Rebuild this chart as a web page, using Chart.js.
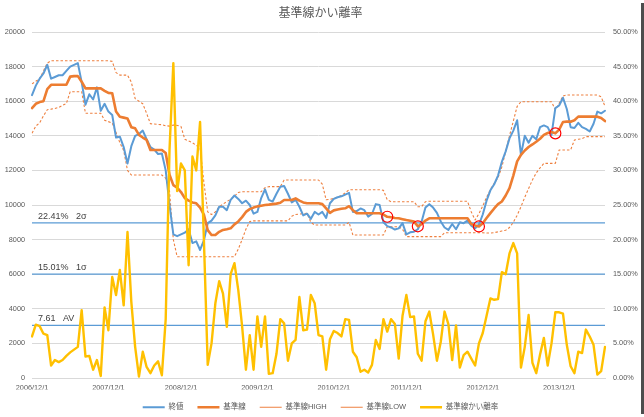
<!DOCTYPE html>
<html><head><meta charset="utf-8">
<script src="https://cdn.jsdelivr.net/npm/chart.js@4.4.1/dist/chart.umd.min.js"></script>
<style>
html,body{margin:0;padding:0;background:#fff;}
#wrap{position:relative;width:641px;height:414px;background:#fff;box-shadow:3px 3px 0 0 #4d4d4d;}
canvas{display:block;}
</style></head><body>
<div id="wrap"><canvas id="c" width="641" height="414"></canvas></div>
<script>
const chartTitle = '基準線かい離率';
const seriesNames = ['終値', '基準線', '基準線HIGH', '基準線LOW', '基準線かい離率'];
const tickLabels = ['2006/12/1','2007/12/1','2008/12/1','2009/12/1','2010/12/1','2011/12/1','2012/12/1','2013/12/1'];
const tickIndex = [0, 20, 39, 59, 79, 98, 118, 138];

const closeValues = [
16350,16900,17300,17600,18100,17300,17400,17500,17500,17750,
18000,18100,18200,17100,15800,16400,16100,16800,15450,15850,
15400,15200,13900,13950,13350,12400,13400,14000,14100,14300,
13800,13350,13200,12950,12980,12000,10000,8300,8200,8300,
8400,8600,7800,7900,7400,7950,8950,9100,9400,9900,
9900,9700,10300,10550,10350,10100,10250,10000,9500,9600,
10400,10900,10300,10200,10650,11050,11100,10650,10150,10300,
9900,9400,9500,9200,9600,9450,9600,9250,10100,10350,
10450,10500,10600,10700,9600,9650,9800,9700,9330,9480,
10050,10000,9000,8780,8700,8580,8650,8950,8300,8420,
8460,8600,9050,9850,10050,9850,9550,9050,8700,8560,
8900,8600,9000,8950,9100,8800,8650,8870,9450,10250,
10850,11200,11700,12500,13100,13850,14300,14900,12900,14000,
13600,14000,13800,14500,14600,14500,14050,15600,15750,16200,
15550,14500,14450,14750,14500,14400,14250,14700,15400,15300,
15450];

const baseValues = [
15600,15850,15950,16000,16700,16950,16950,16950,16950,16950,
17420,17450,17450,17130,16740,16740,16740,16740,16740,16600,
16480,16460,15400,15100,15050,15000,14500,14430,14050,13900,
13760,13180,13180,13180,13180,13000,11750,11150,11000,10750,
10400,10250,10150,10100,9850,9450,8550,8265,8265,8450,
8560,8600,8650,8880,9050,9300,9600,9760,9850,9920,
9960,10000,10020,10050,10080,10130,10290,10290,10290,10380,
10250,10150,10100,10100,10100,10100,10050,9800,9550,9690,
9740,9780,9810,9930,9700,9520,9520,9520,9520,9520,
9520,9520,9450,9320,9290,9250,9230,9180,9130,9090,
9040,8770,8900,9100,9230,9230,9230,9230,9230,9230,
9230,9230,9230,9230,9230,8900,8820,8760,8950,9250,
9530,9800,10050,10200,10550,10980,11700,12520,12900,13150,
13350,13500,13660,13830,14050,14160,14220,14143,14360,14800,
14817,14817,14900,15106,15106,15106,15106,15106,15106,15030,
14850];

const highValues = [
17000,17150,17300,17750,18200,18340,18340,18340,18340,18340,
18340,18340,18340,18340,18340,18340,18340,18340,18340,18340,
18340,18300,17650,17510,17510,17510,17100,16150,16000,15850,
15300,14700,14680,14660,14640,14580,14560,14620,14600,14540,
13800,13700,13600,13450,13300,11300,9600,9450,9600,9900,
10050,10200,10330,10500,10720,10770,10770,10770,10770,10770,
10770,11000,11060,11060,11060,11060,11445,11445,11445,11445,
11445,11445,11445,11445,11445,11445,11200,10300,10330,10380,
10450,10550,10700,10880,10880,10880,10880,10880,10880,10880,
10880,10880,10850,10300,10192,10192,10192,10192,10192,10192,
10192,9900,9900,10192,10220,10220,10220,10220,10220,10220,
10220,10220,10220,10220,10220,9600,9132,9500,9950,10450,
10900,11250,11580,12200,13100,14000,14850,15700,15970,15970,
15970,15970,15970,15970,15970,15970,15970,15500,15880,16300,
16360,16360,16360,16360,16360,16360,16360,16360,16360,16250,
15700];

const lowValues = [
14150,14560,14750,15150,15510,15540,15580,15640,15760,15870,
16550,16550,16550,16550,15300,15300,15300,15300,15300,14900,
14820,14740,14200,13600,13150,12000,11734,11734,11734,11734,
11734,11734,11734,11734,11734,11550,10800,8000,7012,7012,
7012,7012,7012,7012,7012,7012,7012,7012,7012,7012,
7012,7012,7012,7012,7450,8000,8600,9040,9080,9080,
9080,9080,9080,9080,9080,9080,9080,9080,9350,9450,
9480,9500,9518,9000,8843,8843,8843,8843,8843,8843,
8843,8843,8843,9000,8265,8265,8265,8265,8265,8265,
8265,8265,8265,8747,8747,8747,8747,8600,8170,8170,
8170,8170,8170,8170,8170,8170,8170,8170,8400,8400,
8400,8400,8400,8400,8400,8400,8400,8400,8400,8380,
8380,8400,8450,8500,8540,8700,9000,9400,9900,10450,
10950,11450,11850,12150,12408,12408,12408,12408,13180,13180,
13180,13180,13760,13800,13830,13950,13950,13950,13950,13950,
13950];

const ratioValues = [
6.0,7.7,7.5,6.4,6.2,1.8,2.6,2.3,2.6,3.2,
3.7,4.1,4.5,9.8,3.1,3.2,1.2,2.6,0.3,10.2,
6.9,14.6,12.0,15.6,10.5,21.1,11.0,4.5,0.2,3.8,
1.6,0.7,1.8,2.4,0.4,8.5,33.0,45.5,27.0,31.0,
30.0,16.3,32.0,30.0,37.0,20.0,1.9,5.0,10.8,14.0,
12.2,7.4,15.0,16.6,12.7,7.5,1.2,6.2,1.2,8.9,
4.5,8.9,0.6,0.7,3.5,8.5,7.9,2.5,5.0,5.5,
11.7,6.9,7.0,12.0,10.8,6.2,6.0,1.2,5.6,6.8,
6.5,6.0,8.5,8.4,3.8,3.0,0.9,1.2,0.8,1.9,
5.5,4.2,8.5,6.7,8.5,7.8,2.8,9.0,12.0,8.8,
8.9,3.5,2.5,8.2,9.6,6.3,2.5,5.2,9.6,7.8,
2.6,7.6,1.5,3.3,3.8,2.8,1.8,5.0,6.5,9.0,
11.5,11.3,11.4,15.3,15.0,18.0,19.5,18.0,1.5,4.5,
9.1,2.2,0.7,3.4,5.8,1.8,5.0,9.5,9.5,9.3,
4.8,1.7,0.7,3.8,3.6,7.0,6.0,4.8,0.5,1.0,
4.5];

const sigmaValues = [22.41, 15.01, 7.61];
const sigmaLabels = ['22.41%   2σ', '15.01%   1σ', '7.61   AV'];
const circleIdx = [93, 101, 117, 137];

const FONT = "'Liberation Sans','Noto Sans CJK JP',sans-serif";
const categories = closeValues.map((_, i) => {
  const k = tickIndex.indexOf(i);
  return k >= 0 ? tickLabels[k] : '';
});

const lineBase = {pointRadius: 0, pointHoverRadius: 0, tension: 0, fill: false,
  borderJoinStyle: 'round', borderCapStyle: 'round'};

const datasets = [
  Object.assign({}, lineBase, {label: seriesNames[0], data: closeValues, borderColor: '#5B9BD5', backgroundColor: '#5B9BD5', borderWidth: 2, yAxisID: 'y', order: 3}),
  Object.assign({}, lineBase, {label: seriesNames[1], data: baseValues, borderColor: '#ED7D31', backgroundColor: '#ED7D31', borderWidth: 2.6, yAxisID: 'y', order: 2}),
  Object.assign({}, lineBase, {label: seriesNames[2], data: highValues, borderColor: '#EE8040', backgroundColor: '#EE8040', borderWidth: 1.1, borderDash: [2.5, 2], borderCapStyle: 'butt', yAxisID: 'y', order: 4}),
  Object.assign({}, lineBase, {label: seriesNames[3], data: lowValues, borderColor: '#EE8040', backgroundColor: '#EE8040', borderWidth: 1.1, borderDash: [2.5, 2], borderCapStyle: 'butt', yAxisID: 'y', order: 4}),
  Object.assign({}, lineBase, {label: seriesNames[4], data: ratioValues, borderColor: '#FFC000', backgroundColor: '#FFC000', borderWidth: 2.4, yAxisID: 'y1', order: 1}),
];
sigmaValues.forEach((v) => {
  datasets.push(Object.assign({}, lineBase, {label: 'sigma', data: categories.map(() => v), borderColor: '#5B9BD5', borderWidth: 1.4, borderCapStyle: 'butt', yAxisID: 'y1', order: 5}));
});
datasets.push({label: 'marks', data: categories.map((_, i) => circleIdx.includes(i) ? baseValues[i] : null),
  showLine: false, pointRadius: 5.5, pointHoverRadius: 5.5, pointBorderColor: '#FF0000', pointBackgroundColor: 'rgba(0,0,0,0)',
  pointBorderWidth: 1.2, borderColor: '#FF0000', yAxisID: 'y', order: 0});

const sigmaLabelPlugin = {
  id: 'sigmaLabels',
  afterDatasetsDraw(chart) {
    const {ctx, chartArea, scales} = chart;
    ctx.save();
    ctx.font = '9px ' + FONT;
    ctx.fillStyle = '#404040';
    ctx.textBaseline = 'bottom';
    ctx.textAlign = 'left';
    sigmaValues.forEach((v, k) => {
      const y = scales.y1.getPixelForValue(v);
      ctx.fillText(sigmaLabels[k], chartArea.left + 6, y - 2);
    });
    ctx.restore();
  }
};

new Chart(document.getElementById('c'), {
  type: 'line',
  data: {labels: categories, datasets: datasets},
  plugins: [sigmaLabelPlugin],
  options: {
    responsive: false,
    animation: false,
    devicePixelRatio: 1,
    layout: {padding: {top: 0, left: 0, right: 0, bottom: -7}},
    plugins: {
      title: {display: true, text: chartTitle, color: '#595959', font: {family: FONT, size: 12, weight: 'normal'}, padding: {top: 6.3, bottom: 11.3}},
      legend: {
        position: 'bottom',
        labels: {
          usePointStyle: true, pointStyle: 'line', pointStyleWidth: 22,
          font: {family: FONT, size: 7.5}, color: '#595959', padding: 14,
          filter: (item) => item.datasetIndex < 5,
          sort: (a, b) => a.datasetIndex - b.datasetIndex
        }
      },
      tooltip: {enabled: false}
    },
    scales: {
      x: {
        type: 'category',
        grid: {display: false, drawTicks: false},
        border: {display: true, color: '#D9D9D9'},
        ticks: {autoSkip: false, maxRotation: 0, minRotation: 0, padding: 6, color: '#595959', font: {family: FONT, size: 7.3},
          callback: function(v) { const l = this.getLabelForValue(v); return l ? l : null; }},
        afterFit: (s) => { s.height = 11.5; }
      },
      y: {
        position: 'left', min: 0, max: 20000,
        grid: {color: '#D9D9D9', lineWidth: 1, drawTicks: false},
        border: {display: false},
        ticks: {stepSize: 2000, padding: 7, color: '#595959', font: {family: FONT, size: 7.3},
          callback: (v) => String(v)},
        afterFit: (s) => { s.width = 32; }
      },
      y1: {
        position: 'right', min: 0, max: 50,
        grid: {display: false, drawTicks: false},
        border: {display: false},
        ticks: {stepSize: 5, padding: 8, color: '#595959', font: {family: FONT, size: 7.3},
          callback: (v) => v.toFixed(2) + '%'},
        afterFit: (s) => { s.width = 36; }
      }
    }
  }
});
</script></body></html>
